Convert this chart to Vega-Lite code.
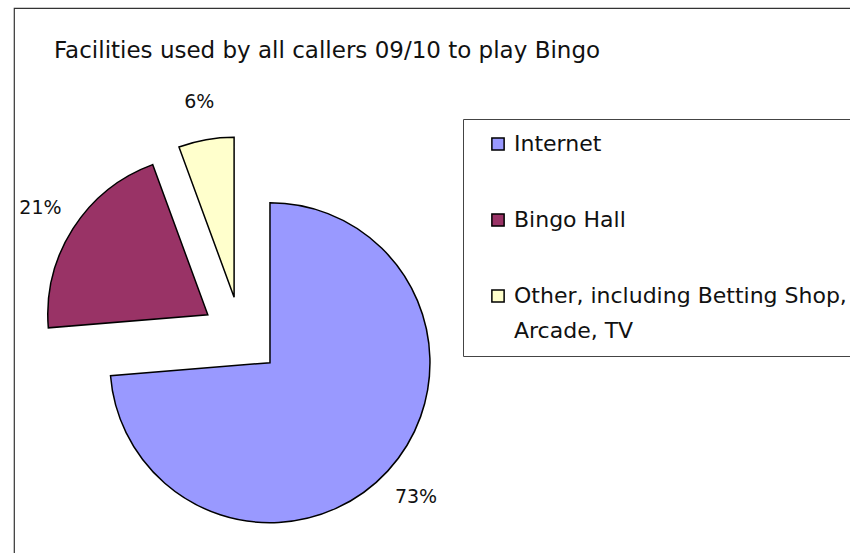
{
  "$schema": "https://vega.github.io/schema/vega-lite/v6.json",
  "width": 842,
  "height": 551,
  "autosize": "none",
  "padding": {"left": 14, "top": 8, "right": -6, "bottom": -6},
  "background": "white",
  "view": {"stroke": "#333333", "strokeWidth": 1.2, "fill": "white"},
  "title": {
    "text": "Facilities used by all callers 09/10 to play Bingo",
    "anchor": "start",
    "frame": "group",
    "orient": "top",
    "offset": 0,
    "dx": 40,
    "dy": 73,
    "baseline": "alphabetic",
    "font": "DejaVu Sans",
    "fontSize": 23,
    "fontWeight": "normal",
    "color": "#111111"
  },
  "data": {
    "values": [
      {"category": "Internet", "share": 0.737, "label": "73%"},
      {"category": "Bingo Hall", "share": 0.207, "label": "21%"},
      {"category": "Other, including Betting Shop, Arcade, TV", "share": 0.056, "label": "6%"}
    ]
  },
  "transform": [
    {"stack": "share", "groupby": [], "sort": [{"field": "share", "order": "descending"}], "as": ["v0", "v1"]},
    {"calculate": "(datum.v0 + datum.v1) / 2", "as": "mid"},
    {"calculate": "sin(datum.mid * 2 * PI)", "as": "dx"},
    {"calculate": "cos(datum.mid * 2 * PI)", "as": "dy"}
  ],
  "layer": [
    {
      "mark": {"type": "arc", "outerRadius": 160, "stroke": "black", "strokeWidth": 1.5, "strokeJoin": "miter"},
      "encoding": {
        "theta": {"field": "v0", "type": "quantitative", "stack": null, "scale": {"domain": [0, 1], "range": [0, 6.283185307179586]}},
        "theta2": {"field": "v1"},
        "x": {"field": "dx", "type": "quantitative", "axis": null, "scale": {"domain": [-1, 1], "range": [187.6, 266.4]}},
        "y": {"field": "dy", "type": "quantitative", "axis": null, "scale": {"domain": [-1, 1], "range": [367.4, 288.6]}},
        "color": {
          "field": "category",
          "type": "nominal",
          "sort": ["Internet", "Bingo Hall", "Other, including Betting Shop, Arcade, TV"],
          "scale": {
            "domain": ["Internet", "Bingo Hall", "Other, including Betting Shop, Arcade, TV"],
            "range": ["#9999FF", "#993366", "#FFFFCC"]
          },
          "legend": {
            "title": null,
            "orient": "none",
            "legendX": 449,
            "legendY": 111,
            "direction": "vertical",
            "padding": 14,
            "strokeColor": "#444444",
            "fillColor": "white",
            "symbolType": "square",
            "symbolSize": 150,
            "symbolStrokeColor": "black",
            "symbolStrokeWidth": 1.5,
            "symbolOffset": 10,
            "labelOffset": 5,
            "labelFont": "DejaVu Sans",
            "labelFontSize": 22,
            "labelColor": "#111111",
            "labelLimit": 500,
            "rowPadding": 54,
            "labelExpr": "datum.label == 'Other, including Betting Shop, Arcade, TV' ? ['Other, including Betting Shop,', 'Arcade, TV'] : datum.label",
            "encoding": {"labels": {"lineHeight": {"value": 35}}}
          }
        }
      }
    },
    {
      "mark": {"type": "text", "radius": 238, "align": "center", "baseline": "middle", "font": "DejaVu Sans", "fontSize": 19, "color": "#111111"},
      "encoding": {
        "theta": {"field": "mid", "type": "quantitative", "scale": {"domain": [0, 1], "range": [0, 6.283185307179586]}},
        "x": {"datum": 0, "type": "quantitative"},
        "y": {"datum": 0, "type": "quantitative"},
        "text": {"field": "label", "type": "nominal"}
      }
    }
  ]
}
